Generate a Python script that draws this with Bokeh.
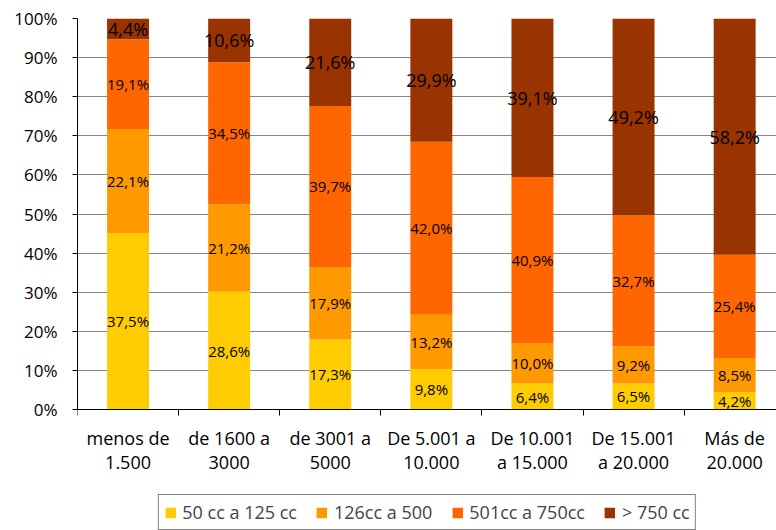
from bokeh.plotting import figure
from bokeh.models import ColumnDataSource, FixedTicker, Legend, LegendItem, Range1d, LinearAxis
from bokeh.embed import file_html
from bokeh.resources import INLINE
from bokeh.core.properties import value

cat_line1 = ["menos de", "de 1600 a", "de 3001 a", "De 5.001 a", "De 10.001", "De 15.001", "Más de"]
cat_line2 = ["1.500", "3000", "5000", "10.000", "a 15.000", "a 20.000", "20.000"]
series_names = ["50 cc a 125 cc", "126cc a 500", "501cc a 750cc", "> 750 cc"]
s50_125 = [37.5, 28.6, 17.3, 9.8, 6.4, 6.5, 4.2]
s126_500 = [22.1, 21.2, 17.9, 13.2, 10.0, 9.2, 8.5]
s501_750 = [19.1, 34.5, 39.7, 42.0, 40.9, 32.7, 25.4]
s750 = [4.4, 10.6, 21.6, 29.9, 39.1, 49.2, 58.2]
y_ticks = [0, 0.1, 0.2, 0.3, 0.4, 0.5, 0.6, 0.7, 0.8, 0.9, 1.0]
colors = ["#FFCC00", "#FF9900", "#FF6600", "#993300"]

FONT = "Open Sans"
series = [s50_125, s126_500, s501_750, s750]
keys = ["a", "b", "c", "d"]
n = len(cat_line1)
xs = list(range(n))
totals = [sum(s[i] for s in series) for i in range(n)]
data = {"x": xs}
for k, s in zip(keys, series):
    data[k] = [s[i] / totals[i] for i in range(n)]
src = ColumnDataSource(data)

# frame reaches the bottom of the window; the 0..1 band occupies the upper 391 px
p = figure(frame_width=699, frame_height=512,
           output_backend="svg", toolbar_location=None,
           x_range=Range1d(-0.5, -0.5 + 699 / 101.1), y_range=Range1d(-121 / 391, 1),
           min_border_left=77, min_border_right=0, min_border_top=18, min_border_bottom=0)
p.outline_line_color = None
p.background_fill_color = "white"

renderers = p.vbar_stack(keys, x="x", width=0.415, color=colors, source=src, line_color=None)

# data labels at segment middles
lab_x, lab_y, lab_t, lab_s = [], [], [], []
for i in range(n):
    cum = 0.0
    for j, s in enumerate(series):
        frac = s[i] / totals[i]
        lab_x.append(i)
        lab_y.append(cum + frac / 2)
        lab_t.append(("%.1f" % s[i]).replace(".", ",") + "%")
        lab_s.append("18px" if j == 3 else "15px")
        cum += frac
lsrc = ColumnDataSource(dict(x=lab_x, y=lab_y, t=lab_t, s=lab_s))
p.text(x="x", y="y", text="t", source=lsrc, text_align="center", text_baseline="middle",
       text_font=value(FONT), text_font_size="s", text_color="black")

# grid
p.xgrid.visible = False
p.ygrid.ticker = FixedTicker(ticks=y_ticks)
p.ygrid.grid_line_color = "#868686"
p.ygrid.grid_line_width = 1

# y axis
p.yaxis.ticker = FixedTicker(ticks=y_ticks)
p.yaxis.bounds = (y_ticks[0], y_ticks[-1])
p.yaxis.major_label_overrides = {t: "%d%%" % round(t * 100) for t in y_ticks}
p.yaxis.major_tick_out = 5
p.yaxis.major_tick_in = 0
p.yaxis.minor_tick_out = 0
p.yaxis.minor_tick_in = 0
p.yaxis.axis_line_color = "black"
p.yaxis.major_tick_line_color = "black"
p.yaxis.major_label_text_font = FONT
p.yaxis.major_label_text_font_size = "17px"
p.yaxis.major_label_text_color = "black"
p.yaxis.major_label_standoff = 15

# x axis at y = 0 (first line of category labels + boundary ticks)
p.xaxis.fixed_location = 0
p.xaxis.ticker = FixedTicker(ticks=xs, minor_ticks=[i - 0.5 for i in range(n)])
p.xaxis.major_label_overrides = {i: c for i, c in enumerate(cat_line1)}
p.xaxis.major_tick_out = 0
p.xaxis.major_tick_in = 0
p.xaxis.minor_tick_out = 6
p.xaxis.minor_tick_in = 0
p.xaxis.minor_tick_line_color = "black"
p.xaxis.axis_line_color = "black"
p.xaxis.major_label_text_font = FONT
p.xaxis.major_label_text_font_size = "18px"
p.xaxis.major_label_text_color = "black"
p.xaxis.major_label_standoff = 10

# second line of category labels
ax2 = LinearAxis(ticker=FixedTicker(ticks=xs, minor_ticks=[]),
                 major_label_overrides={i: c for i, c in enumerate(cat_line2)})
ax2.fixed_location = 0
ax2.axis_line_color = None
ax2.major_tick_line_color = None
ax2.minor_tick_line_color = None
ax2.major_tick_out = 0
ax2.major_tick_in = 0
ax2.minor_tick_out = 0
ax2.minor_tick_in = 0
ax2.major_label_standoff = 40
ax2.major_label_text_font = FONT
ax2.major_label_text_font_size = "18px"
ax2.major_label_text_color = "black"
p.add_layout(ax2, "below")

legend = Legend(items=[LegendItem(label=nm, renderers=[r]) for nm, r in zip(series_names, renderers)],
                orientation="horizontal", location="bottom_center")
legend.border_line_color = "black"
legend.border_line_width = 1
legend.label_text_font = FONT
legend.label_text_font_size = "18px"
legend.glyph_width = 13
legend.glyph_height = 13
legend.label_standoff = 6
legend.spacing = 18
legend.padding = 5
legend.margin = 0
p.add_layout(legend, "center")

open("out.html", "w").write(file_html(p, INLINE))
